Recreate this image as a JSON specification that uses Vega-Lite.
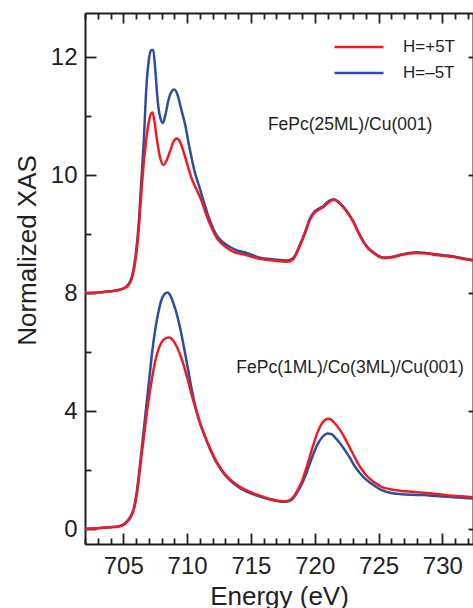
{
  "$schema": "https://vega.github.io/schema/vega-lite/v6.json",
  "width": 388,
  "height": 531,
  "autosize": {"type": "none"},
  "padding": {"left": 85, "top": 13, "right": 0, "bottom": 64},
  "background": "white",
  "config": {
    "font": "Liberation Sans",
    "view": {"stroke": null},
    "axis": {
      "domainColor": "#231f20", "tickColor": "#231f20", "domainWidth": 2, "tickWidth": 1.8,
      "labelColor": "#231f20", "titleColor": "#231f20", "labelFont": "Liberation Sans", "titleFont": "Liberation Sans",
      "labelFontSize": 24, "titleFontSize": 26, "titleFontWeight": "normal", "grid": false,
      "labelOverlap": false, "labelFlush": false
    },
    "legend": {"labelFont": "Liberation Sans"}
  },
  "datasets": {
    "curves": [
      {"E":702.0,"v":8.00,"H":"H=–5T","film":"25ML"},{"E":703.0,"v":8.01,"H":"H=–5T","film":"25ML"},{"E":704.0,"v":8.03,"H":"H=–5T","film":"25ML"},{"E":704.8,"v":8.06,"H":"H=–5T","film":"25ML"},{"E":705.3,"v":8.12,"H":"H=–5T","film":"25ML"},{"E":705.7,"v":8.30,"H":"H=–5T","film":"25ML"},{"E":706.0,"v":8.70,"H":"H=–5T","film":"25ML"},{"E":706.2,"v":9.15,"H":"H=–5T","film":"25ML"},{"E":706.4,"v":9.85,"H":"H=–5T","film":"25ML"},{"E":706.6,"v":10.55,"H":"H=–5T","film":"25ML"},{"E":706.8,"v":11.45,"H":"H=–5T","film":"25ML"},{"E":707.0,"v":11.95,"H":"H=–5T","film":"25ML"},{"E":707.2,"v":12.12,"H":"H=–5T","film":"25ML"},{"E":707.35,"v":12.12,"H":"H=–5T","film":"25ML"},{"E":707.5,"v":11.80,"H":"H=–5T","film":"25ML"},{"E":707.7,"v":11.25,"H":"H=–5T","film":"25ML"},{"E":707.9,"v":10.97,"H":"H=–5T","film":"25ML"},{"E":708.1,"v":10.88,"H":"H=–5T","film":"25ML"},{"E":708.3,"v":11.02,"H":"H=–5T","film":"25ML"},{"E":708.55,"v":11.28,"H":"H=–5T","film":"25ML"},{"E":708.8,"v":11.42,"H":"H=–5T","film":"25ML"},{"E":709.0,"v":11.45,"H":"H=–5T","film":"25ML"},{"E":709.25,"v":11.36,"H":"H=–5T","film":"25ML"},{"E":709.5,"v":11.15,"H":"H=–5T","film":"25ML"},{"E":709.85,"v":10.85,"H":"H=–5T","film":"25ML"},{"E":710.2,"v":10.45,"H":"H=–5T","film":"25ML"},{"E":710.6,"v":10.05,"H":"H=–5T","film":"25ML"},{"E":711.0,"v":9.77,"H":"H=–5T","film":"25ML"},{"E":711.4,"v":9.48,"H":"H=–5T","film":"25ML"},{"E":711.8,"v":9.22,"H":"H=–5T","film":"25ML"},{"E":712.2,"v":9.02,"H":"H=–5T","film":"25ML"},{"E":712.6,"v":8.90,"H":"H=–5T","film":"25ML"},{"E":713.2,"v":8.80,"H":"H=–5T","film":"25ML"},{"E":713.8,"v":8.73,"H":"H=–5T","film":"25ML"},{"E":714.5,"v":8.69,"H":"H=–5T","film":"25ML"},{"E":715.7,"v":8.60,"H":"H=–5T","film":"25ML"},{"E":716.8,"v":8.57,"H":"H=–5T","film":"25ML"},{"E":717.8,"v":8.55,"H":"H=–5T","film":"25ML"},{"E":718.3,"v":8.59,"H":"H=–5T","film":"25ML"},{"E":718.8,"v":8.80,"H":"H=–5T","film":"25ML"},{"E":719.24,"v":9.03,"H":"H=–5T","film":"25ML"},{"E":719.6,"v":9.25,"H":"H=–5T","film":"25ML"},{"E":720.03,"v":9.39,"H":"H=–5T","film":"25ML"},{"E":720.4,"v":9.44,"H":"H=–5T","film":"25ML"},{"E":720.7,"v":9.48,"H":"H=–5T","film":"25ML"},{"E":721.1,"v":9.56,"H":"H=–5T","film":"25ML"},{"E":721.5,"v":9.59,"H":"H=–5T","film":"25ML"},{"E":721.9,"v":9.54,"H":"H=–5T","film":"25ML"},{"E":722.25,"v":9.46,"H":"H=–5T","film":"25ML"},{"E":722.6,"v":9.36,"H":"H=–5T","film":"25ML"},{"E":723.03,"v":9.21,"H":"H=–5T","film":"25ML"},{"E":723.4,"v":9.04,"H":"H=–5T","film":"25ML"},{"E":723.8,"v":8.88,"H":"H=–5T","film":"25ML"},{"E":724.2,"v":8.76,"H":"H=–5T","film":"25ML"},{"E":724.6,"v":8.69,"H":"H=–5T","film":"25ML"},{"E":725.0,"v":8.63,"H":"H=–5T","film":"25ML"},{"E":725.4,"v":8.60,"H":"H=–5T","film":"25ML"},{"E":726.0,"v":8.61,"H":"H=–5T","film":"25ML"},{"E":726.7,"v":8.65,"H":"H=–5T","film":"25ML"},{"E":727.4,"v":8.68,"H":"H=–5T","film":"25ML"},{"E":728.0,"v":8.69,"H":"H=–5T","film":"25ML"},{"E":728.7,"v":8.68,"H":"H=–5T","film":"25ML"},{"E":729.3,"v":8.66,"H":"H=–5T","film":"25ML"},{"E":730.1,"v":8.64,"H":"H=–5T","film":"25ML"},{"E":730.9,"v":8.62,"H":"H=–5T","film":"25ML"},{"E":731.6,"v":8.59,"H":"H=–5T","film":"25ML"},{"E":732.4,"v":8.56,"H":"H=–5T","film":"25ML"},

      {"E":702.0,"v":0.00,"H":"H=–5T","film":"1ML"},{"E":703.0,"v":0.03,"H":"H=–5T","film":"1ML"},{"E":704.0,"v":0.06,"H":"H=–5T","film":"1ML"},{"E":704.6,"v":0.09,"H":"H=–5T","film":"1ML"},{"E":705.0,"v":0.15,"H":"H=–5T","film":"1ML"},{"E":705.3,"v":0.27,"H":"H=–5T","film":"1ML"},{"E":705.6,"v":0.45,"H":"H=–5T","film":"1ML"},{"E":705.85,"v":0.75,"H":"H=–5T","film":"1ML"},{"E":706.05,"v":1.25,"H":"H=–5T","film":"1ML"},{"E":706.25,"v":1.95,"H":"H=–5T","film":"1ML"},{"E":706.45,"v":2.75,"H":"H=–5T","film":"1ML"},{"E":706.65,"v":3.55,"H":"H=–5T","film":"1ML"},{"E":706.85,"v":4.35,"H":"H=–5T","film":"1ML"},{"E":707.05,"v":5.15,"H":"H=–5T","film":"1ML"},{"E":707.25,"v":5.95,"H":"H=–5T","film":"1ML"},{"E":707.5,"v":6.75,"H":"H=–5T","film":"1ML"},{"E":707.75,"v":7.35,"H":"H=–5T","film":"1ML"},{"E":708.0,"v":7.78,"H":"H=–5T","film":"1ML"},{"E":708.25,"v":7.97,"H":"H=–5T","film":"1ML"},{"E":708.48,"v":8.01,"H":"H=–5T","film":"1ML"},{"E":708.7,"v":7.90,"H":"H=–5T","film":"1ML"},{"E":708.95,"v":7.62,"H":"H=–5T","film":"1ML"},{"E":709.2,"v":7.27,"H":"H=–5T","film":"1ML"},{"E":709.5,"v":6.72,"H":"H=–5T","film":"1ML"},{"E":709.8,"v":6.05,"H":"H=–5T","film":"1ML"},{"E":710.1,"v":5.35,"H":"H=–5T","film":"1ML"},{"E":710.4,"v":4.65,"H":"H=–5T","film":"1ML"},{"E":710.7,"v":4.05,"H":"H=–5T","film":"1ML"},{"E":711.0,"v":3.60,"H":"H=–5T","film":"1ML"},{"E":711.4,"v":3.13,"H":"H=–5T","film":"1ML"},{"E":711.8,"v":2.70,"H":"H=–5T","film":"1ML"},{"E":712.19,"v":2.34,"H":"H=–5T","film":"1ML"},{"E":712.6,"v":2.05,"H":"H=–5T","film":"1ML"},{"E":712.97,"v":1.83,"H":"H=–5T","film":"1ML"},{"E":713.5,"v":1.60,"H":"H=–5T","film":"1ML"},{"E":714.15,"v":1.38,"H":"H=–5T","film":"1ML"},{"E":714.8,"v":1.24,"H":"H=–5T","film":"1ML"},{"E":715.7,"v":1.10,"H":"H=–5T","film":"1ML"},{"E":716.5,"v":1.00,"H":"H=–5T","film":"1ML"},{"E":717.5,"v":0.92,"H":"H=–5T","film":"1ML"},{"E":718.0,"v":0.95,"H":"H=–5T","film":"1ML"},{"E":718.32,"v":1.05,"H":"H=–5T","film":"1ML"},{"E":718.7,"v":1.30,"H":"H=–5T","film":"1ML"},{"E":718.98,"v":1.52,"H":"H=–5T","film":"1ML"},{"E":719.4,"v":1.95,"H":"H=–5T","film":"1ML"},{"E":719.77,"v":2.40,"H":"H=–5T","film":"1ML"},{"E":720.2,"v":2.85,"H":"H=–5T","film":"1ML"},{"E":720.6,"v":3.12,"H":"H=–5T","film":"1ML"},{"E":721.0,"v":3.24,"H":"H=–5T","film":"1ML"},{"E":721.3,"v":3.22,"H":"H=–5T","film":"1ML"},{"E":721.6,"v":3.10,"H":"H=–5T","film":"1ML"},{"E":721.98,"v":2.91,"H":"H=–5T","film":"1ML"},{"E":722.4,"v":2.65,"H":"H=–5T","film":"1ML"},{"E":722.77,"v":2.40,"H":"H=–5T","film":"1ML"},{"E":723.15,"v":2.12,"H":"H=–5T","film":"1ML"},{"E":723.55,"v":1.89,"H":"H=–5T","film":"1ML"},{"E":724.0,"v":1.68,"H":"H=–5T","film":"1ML"},{"E":724.6,"v":1.49,"H":"H=–5T","film":"1ML"},{"E":725.2,"v":1.33,"H":"H=–5T","film":"1ML"},{"E":725.9,"v":1.23,"H":"H=–5T","film":"1ML"},{"E":726.8,"v":1.18,"H":"H=–5T","film":"1ML"},{"E":727.6,"v":1.16,"H":"H=–5T","film":"1ML"},{"E":728.5,"v":1.15,"H":"H=–5T","film":"1ML"},{"E":729.5,"v":1.12,"H":"H=–5T","film":"1ML"},{"E":730.5,"v":1.09,"H":"H=–5T","film":"1ML"},{"E":731.5,"v":1.06,"H":"H=–5T","film":"1ML"},{"E":732.4,"v":1.03,"H":"H=–5T","film":"1ML"},

      {"E":702.0,"v":8.00,"H":"H=+5T","film":"25ML"},{"E":703.0,"v":8.01,"H":"H=+5T","film":"25ML"},{"E":704.0,"v":8.03,"H":"H=+5T","film":"25ML"},{"E":704.8,"v":8.06,"H":"H=+5T","film":"25ML"},{"E":705.3,"v":8.11,"H":"H=+5T","film":"25ML"},{"E":705.7,"v":8.27,"H":"H=+5T","film":"25ML"},{"E":706.0,"v":8.62,"H":"H=+5T","film":"25ML"},{"E":706.2,"v":9.05,"H":"H=+5T","film":"25ML"},{"E":706.4,"v":9.65,"H":"H=+5T","film":"25ML"},{"E":706.6,"v":10.20,"H":"H=+5T","film":"25ML"},{"E":706.8,"v":10.60,"H":"H=+5T","film":"25ML"},{"E":707.0,"v":10.90,"H":"H=+5T","film":"25ML"},{"E":707.2,"v":11.05,"H":"H=+5T","film":"25ML"},{"E":707.3,"v":11.06,"H":"H=+5T","film":"25ML"},{"E":707.45,"v":10.90,"H":"H=+5T","film":"25ML"},{"E":707.65,"v":10.58,"H":"H=+5T","film":"25ML"},{"E":707.9,"v":10.28,"H":"H=+5T","film":"25ML"},{"E":708.15,"v":10.17,"H":"H=+5T","film":"25ML"},{"E":708.4,"v":10.25,"H":"H=+5T","film":"25ML"},{"E":708.66,"v":10.40,"H":"H=+5T","film":"25ML"},{"E":708.92,"v":10.56,"H":"H=+5T","film":"25ML"},{"E":709.2,"v":10.62,"H":"H=+5T","film":"25ML"},{"E":709.45,"v":10.56,"H":"H=+5T","film":"25ML"},{"E":709.84,"v":10.31,"H":"H=+5T","film":"25ML"},{"E":710.36,"v":9.94,"H":"H=+5T","film":"25ML"},{"E":710.75,"v":9.75,"H":"H=+5T","film":"25ML"},{"E":711.14,"v":9.56,"H":"H=+5T","film":"25ML"},{"E":711.5,"v":9.33,"H":"H=+5T","film":"25ML"},{"E":711.93,"v":9.10,"H":"H=+5T","film":"25ML"},{"E":712.4,"v":8.91,"H":"H=+5T","film":"25ML"},{"E":712.97,"v":8.79,"H":"H=+5T","film":"25ML"},{"E":713.6,"v":8.70,"H":"H=+5T","film":"25ML"},{"E":714.5,"v":8.65,"H":"H=+5T","film":"25ML"},{"E":715.7,"v":8.58,"H":"H=+5T","film":"25ML"},{"E":716.8,"v":8.55,"H":"H=+5T","film":"25ML"},{"E":717.8,"v":8.53,"H":"H=+5T","film":"25ML"},{"E":718.3,"v":8.57,"H":"H=+5T","film":"25ML"},{"E":718.8,"v":8.78,"H":"H=+5T","film":"25ML"},{"E":719.24,"v":9.01,"H":"H=+5T","film":"25ML"},{"E":719.6,"v":9.23,"H":"H=+5T","film":"25ML"},{"E":720.03,"v":9.37,"H":"H=+5T","film":"25ML"},{"E":720.4,"v":9.42,"H":"H=+5T","film":"25ML"},{"E":720.7,"v":9.46,"H":"H=+5T","film":"25ML"},{"E":721.1,"v":9.54,"H":"H=+5T","film":"25ML"},{"E":721.5,"v":9.58,"H":"H=+5T","film":"25ML"},{"E":721.9,"v":9.53,"H":"H=+5T","film":"25ML"},{"E":722.25,"v":9.45,"H":"H=+5T","film":"25ML"},{"E":722.6,"v":9.35,"H":"H=+5T","film":"25ML"},{"E":723.03,"v":9.20,"H":"H=+5T","film":"25ML"},{"E":723.4,"v":9.03,"H":"H=+5T","film":"25ML"},{"E":723.8,"v":8.87,"H":"H=+5T","film":"25ML"},{"E":724.2,"v":8.75,"H":"H=+5T","film":"25ML"},{"E":724.6,"v":8.68,"H":"H=+5T","film":"25ML"},{"E":725.0,"v":8.62,"H":"H=+5T","film":"25ML"},{"E":725.4,"v":8.59,"H":"H=+5T","film":"25ML"},{"E":726.0,"v":8.60,"H":"H=+5T","film":"25ML"},{"E":726.7,"v":8.64,"H":"H=+5T","film":"25ML"},{"E":727.4,"v":8.67,"H":"H=+5T","film":"25ML"},{"E":728.0,"v":8.68,"H":"H=+5T","film":"25ML"},{"E":728.7,"v":8.67,"H":"H=+5T","film":"25ML"},{"E":729.3,"v":8.65,"H":"H=+5T","film":"25ML"},{"E":730.1,"v":8.63,"H":"H=+5T","film":"25ML"},{"E":730.9,"v":8.61,"H":"H=+5T","film":"25ML"},{"E":731.6,"v":8.58,"H":"H=+5T","film":"25ML"},{"E":732.4,"v":8.55,"H":"H=+5T","film":"25ML"},

      {"E":702.0,"v":0.00,"H":"H=+5T","film":"1ML"},{"E":703.0,"v":0.03,"H":"H=+5T","film":"1ML"},{"E":704.0,"v":0.06,"H":"H=+5T","film":"1ML"},{"E":704.6,"v":0.08,"H":"H=+5T","film":"1ML"},{"E":705.0,"v":0.13,"H":"H=+5T","film":"1ML"},{"E":705.3,"v":0.24,"H":"H=+5T","film":"1ML"},{"E":705.6,"v":0.42,"H":"H=+5T","film":"1ML"},{"E":705.85,"v":0.70,"H":"H=+5T","film":"1ML"},{"E":706.05,"v":1.15,"H":"H=+5T","film":"1ML"},{"E":706.25,"v":1.80,"H":"H=+5T","film":"1ML"},{"E":706.45,"v":2.55,"H":"H=+5T","film":"1ML"},{"E":706.65,"v":3.25,"H":"H=+5T","film":"1ML"},{"E":706.85,"v":3.95,"H":"H=+5T","film":"1ML"},{"E":707.05,"v":4.55,"H":"H=+5T","film":"1ML"},{"E":707.25,"v":5.10,"H":"H=+5T","film":"1ML"},{"E":707.5,"v":5.68,"H":"H=+5T","film":"1ML"},{"E":707.75,"v":6.08,"H":"H=+5T","film":"1ML"},{"E":708.0,"v":6.33,"H":"H=+5T","film":"1ML"},{"E":708.3,"v":6.46,"H":"H=+5T","film":"1ML"},{"E":708.6,"v":6.49,"H":"H=+5T","film":"1ML"},{"E":708.85,"v":6.42,"H":"H=+5T","film":"1ML"},{"E":709.1,"v":6.26,"H":"H=+5T","film":"1ML"},{"E":709.35,"v":6.03,"H":"H=+5T","film":"1ML"},{"E":709.6,"v":5.73,"H":"H=+5T","film":"1ML"},{"E":709.9,"v":5.30,"H":"H=+5T","film":"1ML"},{"E":710.2,"v":4.82,"H":"H=+5T","film":"1ML"},{"E":710.45,"v":4.40,"H":"H=+5T","film":"1ML"},{"E":710.7,"v":4.05,"H":"H=+5T","film":"1ML"},{"E":711.0,"v":3.62,"H":"H=+5T","film":"1ML"},{"E":711.4,"v":3.15,"H":"H=+5T","film":"1ML"},{"E":711.8,"v":2.74,"H":"H=+5T","film":"1ML"},{"E":712.19,"v":2.38,"H":"H=+5T","film":"1ML"},{"E":712.6,"v":2.08,"H":"H=+5T","film":"1ML"},{"E":712.97,"v":1.86,"H":"H=+5T","film":"1ML"},{"E":713.5,"v":1.63,"H":"H=+5T","film":"1ML"},{"E":714.15,"v":1.43,"H":"H=+5T","film":"1ML"},{"E":714.8,"v":1.28,"H":"H=+5T","film":"1ML"},{"E":715.7,"v":1.13,"H":"H=+5T","film":"1ML"},{"E":716.5,"v":1.02,"H":"H=+5T","film":"1ML"},{"E":717.5,"v":0.94,"H":"H=+5T","film":"1ML"},{"E":718.0,"v":0.97,"H":"H=+5T","film":"1ML"},{"E":718.32,"v":1.08,"H":"H=+5T","film":"1ML"},{"E":718.7,"v":1.35,"H":"H=+5T","film":"1ML"},{"E":718.98,"v":1.60,"H":"H=+5T","film":"1ML"},{"E":719.4,"v":2.15,"H":"H=+5T","film":"1ML"},{"E":719.77,"v":2.68,"H":"H=+5T","film":"1ML"},{"E":720.2,"v":3.25,"H":"H=+5T","film":"1ML"},{"E":720.6,"v":3.60,"H":"H=+5T","film":"1ML"},{"E":720.9,"v":3.72,"H":"H=+5T","film":"1ML"},{"E":721.15,"v":3.74,"H":"H=+5T","film":"1ML"},{"E":721.45,"v":3.64,"H":"H=+5T","film":"1ML"},{"E":721.98,"v":3.36,"H":"H=+5T","film":"1ML"},{"E":722.4,"v":3.05,"H":"H=+5T","film":"1ML"},{"E":722.77,"v":2.74,"H":"H=+5T","film":"1ML"},{"E":723.15,"v":2.42,"H":"H=+5T","film":"1ML"},{"E":723.55,"v":2.11,"H":"H=+5T","film":"1ML"},{"E":724.0,"v":1.84,"H":"H=+5T","film":"1ML"},{"E":724.6,"v":1.60,"H":"H=+5T","film":"1ML"},{"E":725.2,"v":1.44,"H":"H=+5T","film":"1ML"},{"E":725.9,"v":1.35,"H":"H=+5T","film":"1ML"},{"E":726.8,"v":1.29,"H":"H=+5T","film":"1ML"},{"E":727.6,"v":1.26,"H":"H=+5T","film":"1ML"},{"E":728.5,"v":1.23,"H":"H=+5T","film":"1ML"},{"E":729.5,"v":1.19,"H":"H=+5T","film":"1ML"},{"E":730.5,"v":1.14,"H":"H=+5T","film":"1ML"},{"E":731.5,"v":1.11,"H":"H=+5T","film":"1ML"},{"E":732.4,"v":1.08,"H":"H=+5T","film":"1ML"}
    ],
    "notes": [
      {"E": 722.77, "v": 10.85, "label": "FePc(25ML)/Cu(001)"},
      {"E": 722.77, "v": 5.46, "label": "FePc(1ML)/Co(3ML)/Cu(001)"}
    ]
  },
  "layer": [
    {
      "data": {"name": "curves"},
      "mark": {"type": "line", "strokeWidth": 2.5, "interpolate": "monotone", "clip": true},
      "encoding": {
        "x": {
          "field": "E", "type": "quantitative",
          "scale": {"domain": [702, 732.4], "nice": false, "zero": false},
          "axis": {
            "orient": "bottom",
            "values": [702,703,704,705,706,707,708,709,710,711,712,713,714,715,716,717,718,719,720,721,722,723,724,725,726,727,728,729,730,731,732],
            "labelExpr": "datum.value % 5 === 0 ? datum.label : ''",
            "tickSize": {"condition": {"test": "datum.value % 5 === 0", "value": -11}, "value": -6},
            "labelPadding": 21,
            "title": "Energy (eV)",
            "titleBaseline": "alphabetic",
            "titleY": 60
          }
        },
        "y": {
          "field": "v", "type": "quantitative",
          "scale": {"domain": [-0.508, 8, 12.746], "range": [531, 280, 0], "nice": false, "zero": false},
          "axis": {
            "orient": "left",
            "values": [0, 2, 4, 6, 8, 9, 10, 11, 12],
            "labelExpr": "indexof([0,4,8,10,12], datum.value) >= 0 ? datum.label : ''",
            "tickSize": {"condition": {"test": "indexof([0,4,8,10,12], datum.value) >= 0", "value": -11}, "value": -6},
            "labelPadding": 19,
            "title": "Normalized XAS",
            "titleX": -50,
            "titleY": 237,
            "titleBaseline": "alphabetic",
            "titleAlign": "center",
            "titleAngle": -90
          }
        },
        "color": {
          "field": "H", "type": "nominal",
          "scale": {"domain": ["H=+5T", "H=–5T"], "range": ["#ED1C24", "#2B4EA2"]},
          "legend": {
            "orient": "none", "legendX": 248, "legendY": 22, "title": null, "padding": 0,
            "symbolType": "stroke", "symbolSize": 2401, "symbolStrokeWidth": 2.5,
            "clipHeight": 24, "labelFontSize": 17, "labelOffset": 18, "labelColor": "#231f20"
          }
        },
        "detail": {"field": "film"}
      }
    },
    {
      "data": {"name": "notes"},
      "mark": {"type": "text", "fontSize": 17.5, "font": "Liberation Sans", "color": "#231f20", "baseline": "middle", "align": "center"},
      "encoding": {
        "x": {
          "field": "E", "type": "quantitative",
          "scale": {"domain": [702, 732.4], "nice": false, "zero": false},
          "axis": {
            "orient": "top",
            "values": [702,703,704,705,706,707,708,709,710,711,712,713,714,715,716,717,718,719,720,721,722,723,724,725,726,727,728,729,730,731,732],
            "labels": false,
            "tickSize": {"condition": {"test": "datum.value % 5 === 0", "value": -10}, "value": -6},
            "title": null
          }
        },
        "y": {
          "field": "v", "type": "quantitative",
          "scale": {"domain": [-0.508, 8, 12.746], "range": [531, 280, 0], "nice": false, "zero": false},
          "axis": {
            "orient": "right",
            "values": [0, 4, 8, 10, 12],
            "labels": false,
            "tickSize": -5,
            "title": null
          }
        },
        "text": {"field": "label"}
      }
    }
  ],
  "resolve": {"axis": {"x": "independent", "y": "independent"}}
}
